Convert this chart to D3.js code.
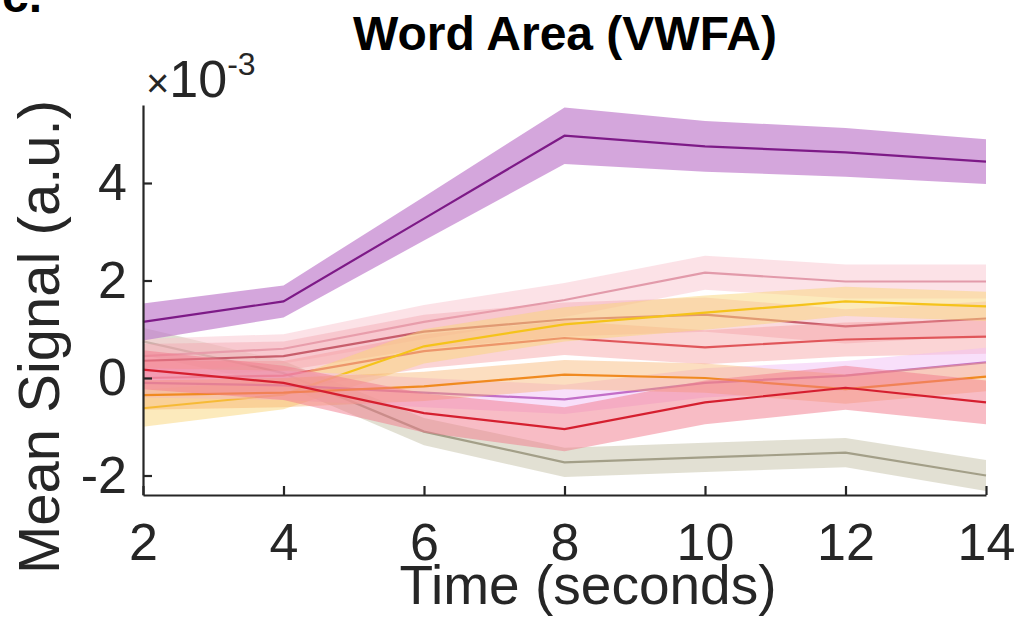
<!DOCTYPE html>
<html><head><meta charset="utf-8">
<script src="https://cdn.jsdelivr.net/npm/d3@7"></script>
<style>body{margin:0;background:#fff}svg{display:block}text{font-family:"Liberation Sans",Arial,sans-serif}</style>
</head><body>
<svg id="c" width="1025" height="630"></svg>
<script>
const times = [2, 4, 6, 8, 10, 12, 14];
const xTicks = [2, 4, 6, 8, 10, 12, 14];
const yTicks = [-2, 0, 2, 4];
const purpleMean = [1.15, 1.57, 3.27, 4.97, 4.75, 4.63, 4.44];
const purpleErr  = [0.38, 0.33, 0.45, 0.58, 0.52, 0.5, 0.46];
const grayMean   = [0.75, 0.1, -1.1, -1.73, -1.63, -1.53, -2.0];
const grayErr    = [0.28, 0.25, 0.28, 0.3, 0.3, 0.3, 0.32];
const pinkMean   = [0.45, 0.6, 1.15, 1.6, 2.16, 1.98, 1.98];
const pinkErr    = [0.35, 0.3, 0.35, 0.35, 0.35, 0.35, 0.35];
const yellowMean = [-0.62, -0.34, 0.65, 1.1, 1.34, 1.57, 1.47];
const yellowErr  = [0.38, 0.3, 0.35, 0.35, 0.35, 0.3, 0.3];
const roseMean   = [0.35, 0.45, 0.95, 1.2, 1.3, 1.06, 1.22];
const roseErr    = [0.35, 0.3, 0.35, 0.35, 0.35, 0.35, 0.35];
const salmonMean = [0.0, 0.05, 0.55, 0.82, 0.63, 0.79, 0.85];
const salmonErr  = [0.35, 0.3, 0.35, 0.35, 0.35, 0.35, 0.35];
const lilacMean  = [-0.1, -0.15, -0.3, -0.44, -0.1, 0.05, 0.32];
const lilacErr   = [0.3, 0.3, 0.3, 0.3, 0.3, 0.3, 0.3];
const orangeMean = [-0.35, -0.3, -0.17, 0.07, 0.0, -0.23, 0.03];
const orangeErr  = [0.3, 0.3, 0.3, 0.3, 0.3, 0.3, 0.3];
const redMean    = [0.17, -0.1, -0.72, -1.05, -0.5, -0.2, -0.5];
const redErr     = [0.4, 0.35, 0.4, 0.45, 0.45, 0.45, 0.45];

const series = [
  {m: grayMean,   e: grayErr,   line: "#a39f88", fill: "#d8d6c4", op: 0.75},
  {m: pinkMean,   e: pinkErr,   line: "#e29aaa", fill: "#f9c6d0", op: 0.5},
  {m: roseMean,   e: roseErr,   line: "#c85e6c", fill: "#f2a2ac", op: 0.4},
  {m: salmonMean, e: salmonErr, line: "#e0565a", fill: "#f59496", op: 0.4},
  {m: yellowMean, e: yellowErr, line: "#f5c31a", fill: "#fad57a", op: 0.5},
  {m: lilacMean,  e: lilacErr,  line: "#c26ec8", fill: "#f2bff5", op: 0.5},
  {m: orangeMean, e: orangeErr, line: "#f08a20", fill: "#f8ad62", op: 0.4},
  {m: redMean,    e: redErr,    line: "#d51f2f", fill: "#f27a8c", op: 0.5},
  {m: purpleMean, e: purpleErr, line: "#7d1a87", fill: "#c07ccb", op: 0.68}
];

const svg = d3.select("#c");
const x = d3.scaleLinear().domain([2, 14]).range([143, 986]);
const y = d3.scaleLinear().domain([-2.4, 5.6]).range([495, 105]);

const area = d3.area().x((d, i) => x(times[i])).y0(d => y(d[0] - d[1])).y1(d => y(d[0] + d[1]));
const line = d3.line().x((d, i) => x(times[i])).y(d => y(d));

series.forEach(s => {
  const pts = s.m.map((v, i) => [v, s.e[i]]);
  svg.append("path").attr("d", area(pts)).attr("fill", s.fill).attr("fill-opacity", s.op).attr("stroke", "none");
  svg.append("path").attr("d", line(s.m)).attr("fill", "none").attr("stroke", s.line).attr("stroke-width", 2.2);
});

// axes
const ax = svg.append("g").attr("transform", "translate(0,495)")
  .call(d3.axisBottom(x).tickValues(xTicks).tickSize(-9).tickSizeOuter(0).tickPadding(28).tickFormat(d3.format("d")));
const ay = svg.append("g").attr("transform", "translate(143,0)")
  .call(d3.axisLeft(y).tickValues(yTicks).tickSize(-9).tickSizeOuter(0).tickPadding(16).tickFormat(d => String(d).replace("\u2212", "-")));
[ax, ay].forEach(g => {
  g.select(".domain").attr("stroke", "#262626").attr("stroke-width", 2.2);
  g.selectAll(".tick line").attr("stroke", "#262626").attr("stroke-width", 2.2);
  g.selectAll(".tick text").attr("fill", "#262626").style("font-size", "52px");
});
ax.selectAll(".tick text").attr("dy", "0.71em");

// exponent
const ex = svg.append("text").attr("x", 146).attr("y", 97).attr("fill", "#262626");
ex.append("tspan").text("×").style("font-size", "40px");
ex.append("tspan").text("10").style("font-size", "52px");
ex.append("tspan").text("-3").attr("dy", -22).style("font-size", "32px");

// labels
svg.append("text").attr("x", 588).attr("y", 604).attr("text-anchor", "middle")
  .attr("fill", "#262626").style("font-size", "55px").text("Time (seconds)");
svg.append("text").attr("transform", "translate(59,337) rotate(-90)").attr("text-anchor", "middle")
  .attr("fill", "#262626").style("font-size", "58px").text("Mean Signal (a.u.)");
svg.append("text").attr("x", 565).attr("y", 50).attr("text-anchor", "middle")
  .attr("fill", "#000").style("font-size", "48px").style("font-weight", "bold").text("Word Area (VWFA)");
svg.append("text").attr("x", 2).attr("y", 12).attr("fill", "#000")
  .style("font-size", "48px").style("font-weight", "bold").text("c.");
</script>
</body></html>
